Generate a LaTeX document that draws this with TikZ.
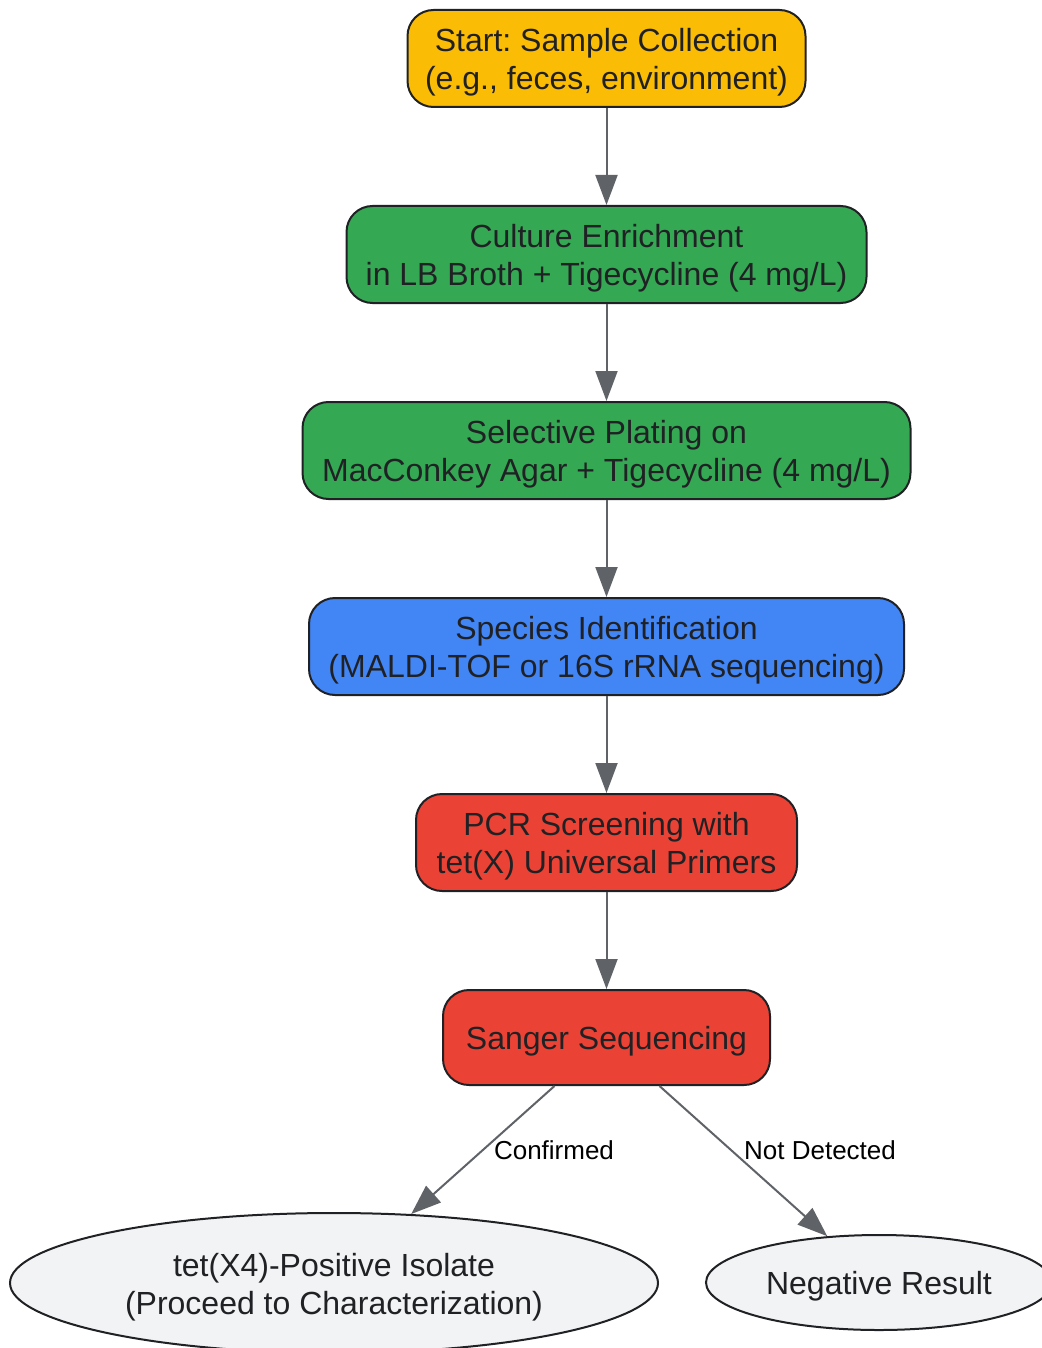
\documentclass[tikz,border=0pt]{standalone}
\usepackage{fontspec}
\setmainfont{Liberation Sans}
\usepackage{tikz}
\usetikzlibrary{shapes.geometric,arrows.meta}
\frenchspacing
\definecolor{Y}{RGB}{251,188,5}
\definecolor{G}{RGB}{52,168,83}
\definecolor{B}{RGB}{66,133,244}
\definecolor{R}{RGB}{234,67,53}
\definecolor{E}{RGB}{241,243,244}
\definecolor{ink}{RGB}{32,33,36}
\definecolor{wire}{RGB}{95,99,104}
\newcommand{\boxfont}{\fontsize{16}{19}\selectfont}
\newcommand{\toprule}{\rule{0pt}{15.7pt}}
\tikzset{
    stepbox/.style={draw=ink, line width=1pt, rounded corners=13pt, align=center,
        text=ink, font=\boxfont, minimum height=48.5pt, inner sep=0pt},
    endbox/.style={ellipse, draw=ink, fill=E, line width=1pt, align=center,
        text=ink, font=\boxfont, inner sep=0pt},
    flow/.style={draw=wire, line width=1pt, -{Triangle[length=15pt,width=11pt]}},
    lbl/.style={font=\fontsize{13}{15}\selectfont, text=black, inner sep=0pt}
}

\begin{document}
\begin{tikzpicture}[x=0.5pt,y=-0.5pt]
\useasboundingbox (0,0) rectangle (1041,1348);
    \node[stepbox, fill=Y, minimum width=199pt] (start) at (606.5,58.5) {\toprule Start: Sample Collection\\(e.g., feces, environment)};
    \node[stepbox, fill=G, minimum width=260pt] (culture) at (606.5,254.5) {\toprule Culture Enrichment\\in LB Broth + Tigecycline (4 mg/L)};
    \node[stepbox, fill=G, minimum width=304pt] (plating) at (606.5,450.5) {\toprule Selective Plating on\\MacConkey Agar + Tigecycline (4 mg/L)};
    \node[stepbox, fill=B, minimum width=297.5pt] (species) at (606.5,646.5) {\toprule Species Identification\\(MALDI-TOF or 16S rRNA sequencing)};
    \node[stepbox, fill=R, minimum width=190.5pt] (pcr) at (606.5,842.5) {\toprule PCR Screening with\\tet(X) Universal Primers};
    \node[stepbox, fill=R, minimum width=163.5pt, minimum height=47.5pt] (sanger) at (606.5,1037.5) {\toprule Sanger Sequencing};
    \node[endbox, minimum width=324pt, minimum height=70pt] (positive) at (334,1283) {\toprule tet(X4)-Positive Isolate\\(Proceed to Characterization)};
    \node[endbox, minimum width=173pt, minimum height=47.5pt] (negative) at (879,1282.5) {\toprule Negative Result};
    % main chain
    \foreach \a/\b in {start/culture,culture/plating,plating/species,species/pcr,pcr/sanger}{
    \draw[flow] (\a) -- (\b);
    }
    \draw[flow] ([xshift=-26pt]sanger.south) -- (positive);
    \draw[flow] ([xshift=26.5pt]sanger.south) -- (negative);
    \node[lbl] (yes) at (554,1150) {Confirmed};
    \node[lbl] (no) at (820,1150) {Not Detected};
\end{tikzpicture}
\end{document}
